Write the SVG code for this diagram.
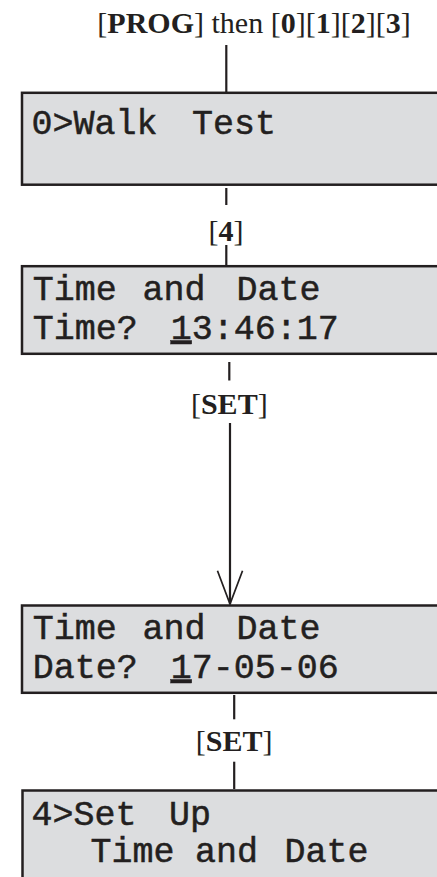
<svg xmlns="http://www.w3.org/2000/svg" width="437" height="877" viewBox="0 0 437 877">
  <defs>
    <style>
      .box { fill: #dcdddf; stroke: #231f20; stroke-width: 2.5; }
      .lcd { font-family: "Courier New", "Nimbus Mono PS", "FreeMono", "Liberation Mono", monospace; font-size: 35px; fill: #231f20; stroke: #231f20; stroke-width: 0.5; }
      .lbl { font-family: "Liberation Serif", "Times New Roman", serif; fill: #231f20; text-anchor: middle; }
      .b { font-weight: bold; }
      .conn { stroke: #231f20; stroke-width: 2.2; fill: none; }
      .ul { text-decoration: underline; }
    </style>
    <marker id="vee" markerUnits="userSpaceOnUse" markerWidth="40" markerHeight="30" refX="0" refY="0" viewBox="-32 -14 34 28" orient="auto" overflow="visible">
      <path d="M-31,-11.7 L0,0 L-31,11.7" fill="none" stroke="#231f20" stroke-width="1.6"/>
    </marker>
  </defs>

  <g id="start-label">
    <text class="lbl" x="254" y="33" font-size="30">[<tspan class="b">PROG</tspan>] then [<tspan class="b">0</tspan>][<tspan class="b">1</tspan>][<tspan class="b">2</tspan>][<tspan class="b">3</tspan>]</text>
  </g>

  <g id="connectors">
    <line class="conn" x1="226.3" y1="45" x2="226.3" y2="92"/>
    <line class="conn" x1="226.3" y1="188" x2="226.3" y2="205"/>
    <line class="conn" x1="226.3" y1="245" x2="226.3" y2="266"/>
    <line class="conn" x1="229.3" y1="362" x2="229.3" y2="380.5"/>
    <line class="conn" x1="230" y1="423" x2="230" y2="604" marker-end="url(#vee)"/>
    <line class="conn" x1="234.2" y1="695" x2="234.2" y2="719.3"/>
    <line class="conn" x1="234.2" y1="761.7" x2="234.2" y2="789"/>
    <text class="lbl" x="226" y="240.5" font-size="30">[<tspan class="b">4</tspan>]</text>
    <text class="lbl" x="229.3" y="413.5" font-size="30">[<tspan class="b">SET</tspan>]</text>
    <text class="lbl" x="234.2" y="750.5" font-size="30">[<tspan class="b">SET</tspan>]</text>
  </g>

  <g id="node-walk-test">
    <rect class="box" x="22" y="92.8" width="430" height="91.9"/>
    <text class="lcd" y="134"><tspan x="31.5">0&gt;Walk</tspan> <tspan x="192">Test</tspan></text>
  </g>

  <g id="node-time">
    <rect class="box" x="22" y="266.2" width="430" height="87.6"/>
    <text class="lcd" y="299.5"><tspan x="32.8">Time</tspan> <tspan x="142.5">and</tspan> <tspan x="236.5">Date</tspan></text>
    <text class="lcd" y="338.5"><tspan x="32.8">Time?</tspan> <tspan x="170.7" class="ul">1</tspan>3:46:17</text>
  </g>

  <g id="node-date">
    <rect class="box" x="22" y="605.5" width="430" height="87.3"/>
    <text class="lcd" y="639"><tspan x="32.8">Time</tspan> <tspan x="142.5">and</tspan> <tspan x="236.5">Date</tspan></text>
    <text class="lcd" y="677.5"><tspan x="32.8">Date?</tspan> <tspan x="170.7" class="ul">1</tspan>7-05-06</text>
  </g>

  <g id="node-setup">
    <rect class="box" x="22.5" y="790.5" width="430" height="100"/>
    <text class="lcd" y="825"><tspan x="31.5">4&gt;Set</tspan> <tspan x="169">Up</tspan></text>
    <text class="lcd" y="862"><tspan x="90.5">Time</tspan> <tspan x="195">and</tspan> <tspan x="284.5">Date</tspan></text>
  </g>
</svg>
